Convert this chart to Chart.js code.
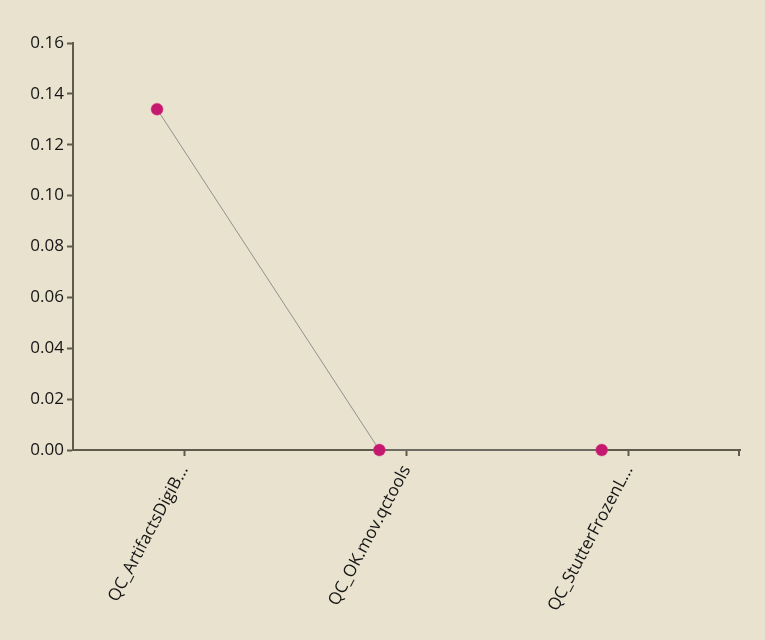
<!DOCTYPE html>
<html>
<head>
<meta charset="utf-8">
<script src="https://cdn.jsdelivr.net/npm/chart.js@4"></script>
<style>
  html, body { margin: 0; padding: 0; background: #e9e2cf; }
  #wrap { width: 765px; height: 640px; }
</style>
</head>
<body>
<div id="wrap"><canvas id="qc-chart" width="765" height="640"></canvas></div>
<script>
// DATA //
const categories = ['QC_ArtifactsDigiB...', 'QC_OK.mov.qctools', 'QC_StutterFrozenL...'];
const values = [0.134, 0, 0];
const yTicks = [0, 0.02, 0.04, 0.06, 0.08, 0.10, 0.12, 0.14, 0.16];

const axisColor = '#5f5a4b';
const textColor = '#151515';

// points sit a little left of the tick marks, as in the original
const pointShift = 0.378;

// small extra tick at the right end of the x axis
const endTick = {
    id: 'endTick',
    afterDraw(chart) {
        const ctx = chart.ctx;
        const area = chart.chartArea;
        ctx.save();
        ctx.strokeStyle = axisColor;
        ctx.lineWidth = 2;
        ctx.beginPath();
        ctx.moveTo(area.right - 1, area.bottom);
        ctx.lineTo(area.right - 1, area.bottom + 6);
        ctx.stroke();
        ctx.restore();
    }
};

const ctx = document.getElementById('qc-chart');

new Chart(ctx, {
    type: 'line',
    data: {
        labels: categories,
        datasets: [{
            data: values.map((v, i) => ({ x: i, y: v })),
            xAxisID: 'xp',
            borderColor: 'rgba(130,130,130,0.85)',
            borderWidth: 1,
            pointRadius: 6,
            pointBackgroundColor: '#c5186f',
            pointBorderColor: 'rgba(220,60,140,0.45)',
            pointBorderWidth: 1,
            tension: 0,
            fill: false,
            clip: false
        }]
    },
    options: {
        responsive: false,
        animation: false,
        layout: {
            padding: { top: 43, right: 25, left: 0, bottom: 0 }
        },
        plugins: {
            legend: { display: false },
            tooltip: { enabled: false }
        },
        scales: {
            x: {
                type: 'category',
                offset: true,
                afterFit: (scale) => { scale.height = 190; },
                grid: {
                    drawOnChartArea: false,
                    drawTicks: true,
                    tickLength: 6,
                    tickWidth: 2,
                    color: axisColor
                },
                border: { color: axisColor, width: 2 },
                ticks: {
                    color: textColor,
                    font: { family: 'Open Sans', size: 17, weight: 500 },
                    minRotation: 62,
                    maxRotation: 62,
                    padding: 6,
                    autoSkip: false
                }
            },
            xp: {
                type: 'linear',
                display: false,
                min: -pointShift,
                max: categories.length - pointShift
            },
            y: {
                min: 0,
                max: 0.16,
                afterFit: (scale) => { scale.width = 73; },
                afterBuildTicks: (scale) => { scale.ticks = yTicks.map(v => ({ value: v })); },
                grid: {
                    drawOnChartArea: false,
                    drawTicks: true,
                    tickLength: 6,
                    tickWidth: 2,
                    color: axisColor
                },
                border: { color: axisColor, width: 2 },
                ticks: {
                    color: textColor,
                    font: { family: 'Open Sans', size: 17, weight: 500 },
                    padding: 3,
                    callback: (v) => Number(v).toFixed(2)
                }
            }
        }
    },
    plugins: [endTick]
});
</script>
</body>
</html>
